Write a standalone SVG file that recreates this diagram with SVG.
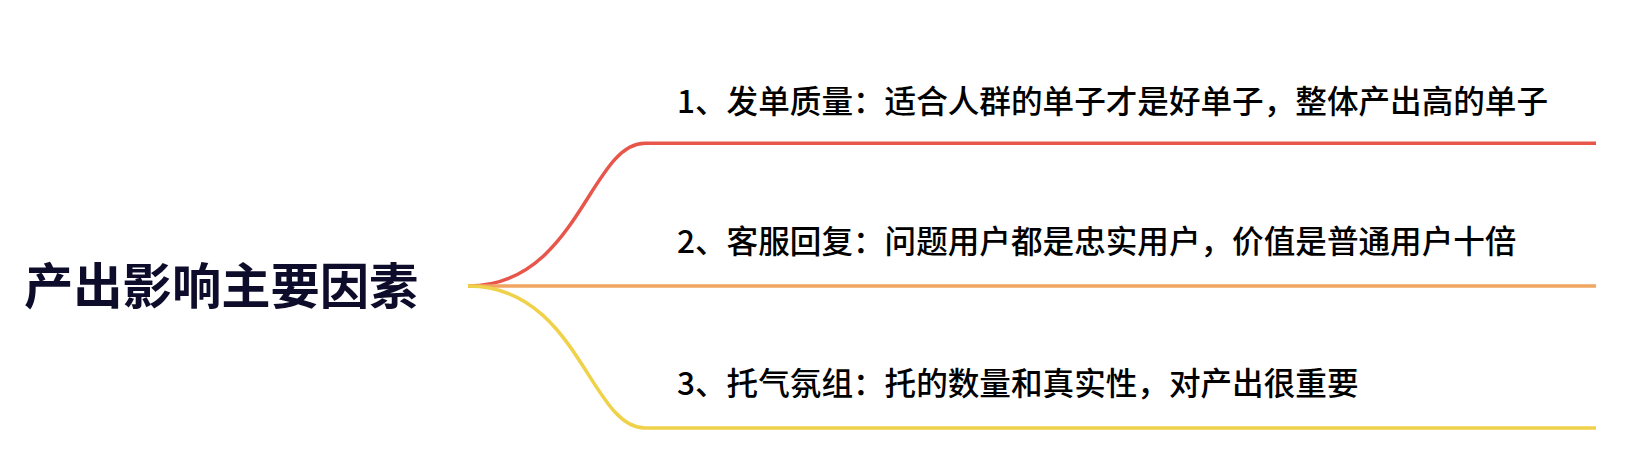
<svg xmlns="http://www.w3.org/2000/svg" width="1626" height="468" viewBox="0 0 1626 468">
<style>
.title{font-family:"Noto Sans CJK SC","Noto Sans",sans-serif;font-size:49.3px;font-weight:bold;fill:#0d0c2b}
.lbl{font-family:"Noto Sans CJK SC","Noto Sans",sans-serif;font-size:31.6px;font-weight:500;fill:#000}
.edge{fill:none;stroke-width:3.5;stroke-linecap:butt}
</style>
<rect width="1626" height="468" fill="#fff"/>
<g id="connectors">
<path class="edge" stroke="#e8554a" d="M468,286 C578,286 590,143.3 645,143.3 L1596,143.3"/>
<path class="edge" stroke="#f0a561" d="M468,286 L1596,286"/>
<path class="edge" stroke="#efd24a" d="M468,286 C578,286 590,428 645,428 L1596,428"/>
</g>
<g id="root"><text class="title" x="24" y="303.5">产出影响主要因素</text></g>
<g id="n1"><text class="lbl" x="677" y="113">1、发单质量：适合人群的单子才是好单子，整体产出高的单子</text></g>
<g id="n2"><text class="lbl" x="677" y="253">2、客服回复：问题用户都是忠实用户，价值是普通用户十倍</text></g>
<g id="n3"><text class="lbl" x="677" y="395">3、托气氛组：托的数量和真实性，对产出很重要</text></g>
</svg>
